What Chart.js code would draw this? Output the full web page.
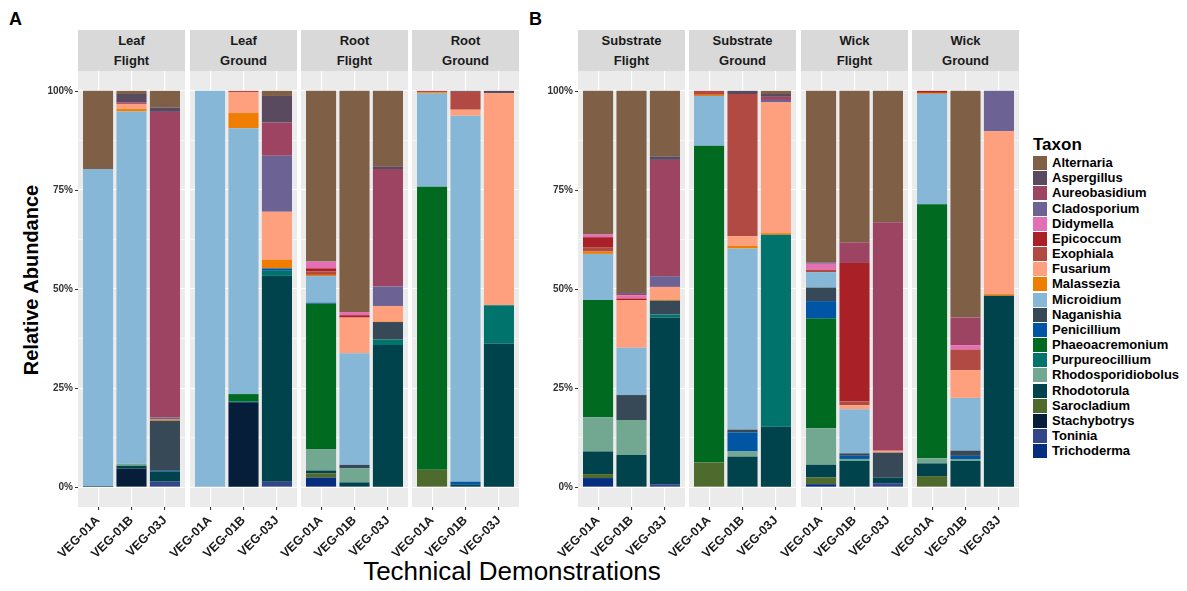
<!DOCTYPE html>
<html>
<head>
<meta charset="utf-8">
<script src="https://cdn.jsdelivr.net/npm/chart.js@4.4.0/dist/chart.umd.min.js"></script>
<style>
body { margin: 0; background: #fff; font-family: "Liberation Sans", Arial, sans-serif; }
#wrap { position: relative; width: 1187px; height: 591px; overflow: hidden; }
.strip { position: absolute; top: 30px; width: 107px; height: 41px; background: #d9d9d9; color: #1a1a1a;
  font-weight: bold; font-size: 13px; line-height: 20px; text-align: center;
  display: flex; flex-direction: column; justify-content: center; }
canvas { position: absolute; top: 71px; }
.tag { position: absolute; font-weight: bold; font-size: 18px; color: #000; }
#ytitle { position: absolute; left: 31px; top: 280px; transform: translate(-50%, -50%) rotate(-90deg);
  font-weight: bold; font-size: 20px; white-space: nowrap; color: #000; }
#xtitle { position: absolute; left: 0; width: 1024px; top: 558px; text-align: center; font-size: 26px; line-height: 26px; color: #000; }
#legend .ttl { position: absolute; left: 1033px; top: 135px; font-weight: bold; font-size: 17px; line-height: 20px; }
#legend .key { position: absolute; left: 1033px; width: 14px; height: 14px; }
#legend .lab { position: absolute; left: 1052px; font-weight: bold; font-size: 13px; line-height: 14px; color: #000; white-space: nowrap; }
</style>
</head>
<body>
<div id="wrap">
  <div class="tag" style="left:9px;top:9px;">A</div>
  <div class="tag" style="left:529px;top:9px;">B</div>
  <div id="ytitle">Relative Abundance</div>
  <div id="xtitle">Technical Demonstrations</div>
  <div id="legend"></div>
</div>
<script>
const samples = ['VEG-01A', 'VEG-01B', 'VEG-03J'];
const panels = [['Leaf', 'Flight'], ['Leaf', 'Ground'], ['Root', 'Flight'], ['Root', 'Ground'],
                ['Substrate', 'Flight'], ['Substrate', 'Ground'], ['Wick', 'Flight'], ['Wick', 'Ground']];
const yTicks = [0, 25, 50, 75, 100];

const taxa = ['Alternaria', 'Aspergillus', 'Aureobasidium', 'Cladosporium', 'Didymella', 'Epicoccum',
  'Exophiala', 'Fusarium', 'Malassezia', 'Microidium', 'Naganishia', 'Penicillium', 'Phaeoacremonium',
  'Purpureocillium', 'Rhodosporidiobolus', 'Rhodotorula', 'Sarocladium', 'Stachybotrys', 'Toninia', 'Trichoderma'];
const colours = ['#7f5f45', '#5a4a60', '#9c4462', '#6c6394', '#e46fb4', '#a92126',
  '#b14a42', '#fea07d', '#ee7d00', '#86b7d7', '#374957', '#0056a4', '#006a21',
  '#00746c', '#72a891', '#00434c', '#4e6a2c', '#061e3a', '#34468a', '#052e80'];

// relative abundance (%), 24 columns: panel by panel, VEG-01A / VEG-01B / VEG-03J
const alternaria      = [19.7, 0.8, 4.2,  0, 0, 1.3,    43, 55.7, 19.1,  0, 0, 0,        36.2, 50.7, 16.5,  0, 0, 0.8,      43.3, 38.1, 33.1,  0, 57.1, 0];
const aspergillus     = [0, 2.1, 1.1,     0, 0, 6.7,    0, 0, 0.6,       0, 0.25, 0.6,   0, 0.4, 0.9,       0, 0.8, 0.7,      0, 0, 0,           0, 0, 0];
const aureobasidium   = [0, 0.4, 77,      0, 0, 8.4,    0, 0, 29.6,      0, 0, 0,        0, 0.4, 29.3,      0, 0, 0.8,        0, 5.2, 57.5,      0, 7, 0];
const cladosporium    = [0, 0, 0.5,       0, 0, 14.1,   0, 0, 4.9,       0, 0, 0,        0, 0, 2.7,         0, 0, 0.6,        0.25, 0, 0,        0, 0, 10.2];
const didymella       = [0, 0, 0,         0, 0, 0,      1.7, 0.8, 0,     0, 0, 0,        0.7, 0.8, 0,       0, 0, 0,          1.5, 0, 0,         0, 1.1, 0];
const epicoccum       = [0, 0, 0,         0, 0, 0,      0.75, 0.6, 0,    0, 0, 0,        2.5, 0.4, 0,       0, 0, 0,          0, 34.8, 0,        0.3, 0, 0];
const exophiala       = [0, 0, 0,         0, 0.4, 0,    0.9, 0, 0,       0.4, 4.5, 0,    1.1, 0, 0,         1, 35.8, 0,       0.6, 1, 0,         0.3, 5.2, 0];
const fusarium        = [0, 1.3, 0,       0, 5.2, 12.1, 0, 9, 3.9,       0, 1.5, 53.4,   0, 12, 3.2,        0, 2.4, 32.9,     0, 1, 0.5,         0, 7, 41];
const malassezia      = [0, 0.6, 0.3,     0, 3.8, 2.2,  0.3, 0, 0.15,    0.3, 0, 0,      0.6, 0, 0.25,      0.3, 0.7, 0.4,    0, 0, 0,           0.2, 0, 0.4];
const microidium      = [79.8, 88.8, 0,   100, 67, 0,   6.7, 28.1, 0,    23.5, 92.1, 0,  11.6, 11.9, 0,     12.5, 45.6, 0,    3.9, 11.1, 0,      27.8, 13.3, 0];
const naganishia      = [0, 0, 12.6,      0, 0, 0,      0, 0.8, 4.4,     0, 0, 0,        0, 6.3, 3.5,       0, 0.7, 0,        3.4, 0.6, 6.3,     0, 1.3, 0];
const penicillium     = [0, 0, 0.25,      0, 0, 0.6,    0.25, 0, 0,      0, 0.8, 0,      0, 0, 0,           0, 4.8, 0,        4.4, 0.8, 0,       0, 0.8, 0];
const phaeoacremonium = [0, 0, 0,         0, 1.8, 0,    36.6, 0, 0,      71.4, 0, 0,     29.6, 0, 0,        79.8, 0, 0,       27.6, 0, 0,        64.1, 0, 0];
const purpureocillium = [0, 0, 0,         0, 0.25, 1.3, 0, 0, 1.4,       0, 0, 9.6,      0, 0, 0.75,        0, 0, 48.3,       0, 0, 0,           0, 0, 0];
const rhodosporidiobolus = [0, 0.5, 0,    0, 0, 0,      5.4, 3.6, 0,     0, 0, 0,        8.6, 8.8, 0,       0, 1.3, 0,        9.2, 0.5, 0,       1.3, 0.5, 0];
const rhodotorula     = [0.3, 0.7, 2.5,   0, 0, 51.9,   0.7, 1.2, 35.8,  0, 0.6, 36.2,   5.7, 8.1, 42,      0, 7.7, 15.2,     3.2, 6.6, 1.4,     3.2, 6.6, 48.2];
const sarocladium     = [0, 0, 0,         0, 0, 0,      1.1, 0, 0,       4.4, 0, 0,      1, 0, 0,           6.2, 0, 0,        1.7, 0, 0,         2.8, 0, 0];
const stachybotrys    = [0, 4.7, 0,       0, 21.4, 0,   0, 0, 0,         0, 0, 0,        0, 0, 0,           0, 0, 0,          0, 0, 0,           0, 0, 0];
const toninia         = [0, 0, 1.4,       0, 0, 1.4,    0, 0, 0,         0, 0, 0,        0, 0, 0.75,        0, 0, 0,          0, 0, 1,           0, 0, 0];
const trichoderma     = [0, 0, 0,         0, 0, 0,      2.4, 0, 0,       0, 0, 0,        2.3, 0, 0,         0, 0, 0,          0.75, 0, 0,        0, 0, 0];

const values = [alternaria, aspergillus, aureobasidium, cladosporium, didymella, epicoccum, exophiala,
  fusarium, malassezia, microidium, naganishia, penicillium, phaeoacremonium, purpureocillium,
  rhodosporidiobolus, rhodotorula, sarocladium, stachybotrys, toninia, trichoderma];

const wrap = document.getElementById('wrap');
const panelLeft = [78, 190, 301, 412, 578, 689, 801, 912];
const FONT = '"Liberation Sans", Arial, sans-serif';

// grey panel background behind the grid
const panelBg = {
  id: 'panelBg',
  beforeDraw(chart) {
    const { ctx, chartArea: a } = chart;
    ctx.save();
    ctx.fillStyle = '#ebebeb';
    ctx.fillRect(a.left, a.top, a.right - a.left, a.bottom - a.top);
    ctx.restore();
  }
};

// y tick labels drawn by hand so every panel keeps the same chart area
const yLabels = {
  id: 'yLabels',
  afterDraw(chart) {
    const { ctx, chartArea: a } = chart;
    const ys = chart.scales.y;
    ctx.save();
    ctx.fillStyle = '#333';
    ctx.strokeStyle = '#333';
    ctx.lineWidth = 1;
    ctx.font = 'bold 10px ' + FONT;
    ctx.textAlign = 'right';
    ctx.textBaseline = 'middle';
    yTicks.forEach(v => {
      const y = ys.getPixelForValue(v);
      ctx.beginPath();
      ctx.moveTo(a.left - 3, Math.round(y) + 0.5);
      ctx.lineTo(a.left, Math.round(y) + 0.5);
      ctx.stroke();
      ctx.fillText(v + '%', a.left - 5, y);
    });
    ctx.restore();
  }
};

panels.forEach((pn, p) => {
  const first = p % 4 === 0;

  const strip = document.createElement('div');
  strip.className = 'strip';
  strip.style.left = panelLeft[p] + 'px';
  strip.innerHTML = '<div>' + pn[0] + '</div><div>' + pn[1] + '</div>';
  wrap.appendChild(strip);

  const cv = document.createElement('canvas');
  cv.width = 152; cv.height = 520;
  cv.style.left = (panelLeft[p] - 45) + 'px';
  wrap.appendChild(cv);

  const totals = [0, 1, 2].map(j => values.reduce((s, v) => s + v[3 * p + j], 0));
  const datasets = taxa.map((t, k) => ({
    label: t,
    backgroundColor: colours[k],
    borderWidth: 0,
    barPercentage: 0.9,
    categoryPercentage: 1,
    data: [0, 1, 2].map(j => ({ x: j + 1, y: values[k][3 * p + j] / totals[j] * 100 }))
  })).reverse();

  new Chart(cv, {
    type: 'bar',
    data: { datasets },
    options: {
      responsive: false,
      animation: false,
      layout: { autoPadding: false, padding: { left: 45, right: 0, top: 0, bottom: 0 } },
      plugins: { legend: { display: false }, tooltip: { enabled: false } },
      scales: {
        x: {
          type: 'linear', stacked: true, min: 0.4, max: 3.6, offset: false,
          afterBuildTicks: s => { s.ticks = [1, 2, 3].map(v => ({ value: v })); },
          afterFit: s => { s.height = 84; },
          border: { display: false },
          grid: { offset: false, color: '#ffffff', lineWidth: 1.1, tickColor: '#333', tickLength: 3 },
          ticks: {
            autoSkip: false, minRotation: 45, maxRotation: 45, padding: 3,
            color: '#1a1a1a', font: { family: FONT, size: 12.5, weight: 'bold' },
            callback: v => samples[v - 1]
          }
        },
        y: {
          stacked: true, min: -5, max: 105,
          afterBuildTicks: s => {
            s.ticks = [0, 12.5, 25, 37.5, 50, 62.5, 75, 87.5, 100].map(v => ({ value: v }));
          },
          afterFit: s => { s.width = 0; },
          border: { display: false },
          grid: {
            color: '#ffffff',
            lineWidth: c => (c.tick && yTicks.includes(c.tick.value)) ? 1.1 : 0.55,
            drawTicks: false
          },
          ticks: { display: false }
        }
      }
    },
    plugins: first ? [panelBg, yLabels] : [panelBg]
  });
});

// legend
const legend = document.getElementById('legend');
let html = '<div class="ttl">Taxon</div>';
taxa.forEach((t, i) => {
  const cy = 163 + 15.17 * i;
  html += '<div class="key" style="top:' + (cy - 7) + 'px;background:' + colours[i] + '"></div>';
  html += '<div class="lab" style="top:' + (cy - 7) + 'px">' + t + '</div>';
});
legend.innerHTML = html;
</script>
</body>
</html>
